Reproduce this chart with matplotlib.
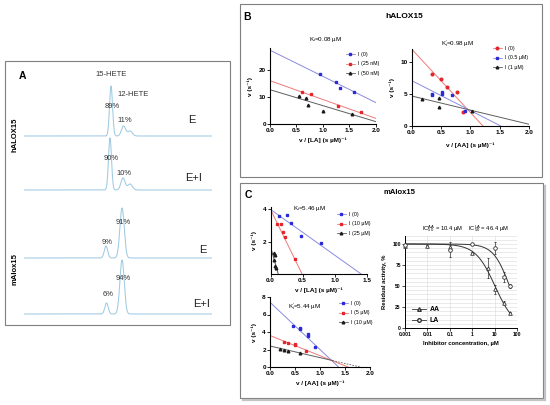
import numpy as np
import matplotlib
matplotlib.use("Agg")
import matplotlib.pyplot as plt
from matplotlib.lines import Line2D
from matplotlib.patches import Rectangle
from matplotlib.ticker import MultipleLocator, LogLocator, NullFormatter

plt.rcParams['font.family'] = ['Liberation Sans', 'DejaVu Sans']
plt.rcParams['mathtext.fontset'] = 'custom'
plt.rcParams['mathtext.rm'] = 'Liberation Sans'
plt.rcParams['mathtext.it'] = 'Liberation Sans:italic'
plt.rcParams['mathtext.bf'] = 'Liberation Sans:bold'

W, H = 550, 405

# ---------------- Panel A: HPLC traces (retention time in min, height in a.u.)
trace_tags = ["E", "E+I", "E", "E+I"]
peak_rt = [[9.26, 10.59, 11.28], [9.15, 10.53, 11.28], [8.72, 10.43], [8.78, 10.43]]
peak_height = [[50, 10, 5], [52, 12, 6], [12, 50], [11, 54]]
peak_sigma = [[0.16, 0.22, 0.25], [0.16, 0.22, 0.25], [0.18, 0.23], [0.18, 0.23]]
peak_pct = [["89%", "11%", ""], ["90%", "10%", ""], ["9%", "91%"], ["6%", "94%"]]
pct_height = [[30, 16, 0], [31, 17, 0], [16, 35], [19, 36]]

# ---------------- Panel B: hALOX15 Eadie-Hofstee plots
bl_labels = ["I (0)", "I (25 nM)", "I (50 nM)"]
bl_x = [[0.95, 1.24, 1.33, 1.58], [0.61, 0.77, 1.29, 1.72], [0.55, 0.68, 0.71, 1.00, 1.55]]
bl_y = [[18.6, 15.5, 13.3, 12.0], [11.8, 11.3, 6.6, 4.5], [10.4, 9.8, 6.9, 5.0, 3.8]]
bl_int = [27.2, 16.0, 12.7]
bl_slope = [-9.6, -6.9, -5.85]

br_labels = ["I (0)", "I (0.5 µM)", "I (1 µM)"]
br_x = [[0.34, 0.50, 0.61, 0.77, 0.88], [0.34, 0.34, 0.52, 0.52, 0.69, 0.90], [0.18, 0.46, 0.46, 1.02]]
br_y = [[8.1, 7.35, 6.0, 5.3, 2.1], [5.0, 4.8, 5.3, 5.0, 4.8, 2.3], [4.2, 4.4, 3.0, 2.4]]
br_int = [11.95, 7.05, 4.66]
br_slope = [-9.85, -4.65, -2.2]

# ---------------- Panel C: mAlox15
ctl_labels = ["I (0)", "I (10 µM)", "I (25 µM)"]
ctl_x = [[0.13, 0.25, 0.32, 0.48, 0.78], [0.10, 0.16, 0.19, 0.23, 0.38], [0.05, 0.065, 0.06, 0.065, 0.085]]
ctl_y = [[3.61, 3.65, 3.18, 2.35, 1.94], [3.1, 3.1, 2.58, 2.27, 0.95], [1.32, 1.18, 0.87, 0.52, 0.35]]
ctl_int = [4.0, 4.0, 1.7]
ctl_slope = [-2.84, -8.16, -14.2]

cbl_labels = ["I (0)", "I (5 µM)", "I (10 µM)"]
cbl_x = [[0.45, 0.60, 0.60, 0.75, 0.75, 0.90], [0.27, 0.35, 0.50, 0.50, 0.72], [0.20, 0.27, 0.35, 0.60]]
cbl_y = [[4.7, 4.5, 4.3, 3.8, 3.6, 2.3], [2.9, 2.8, 2.6, 2.5, 1.8], [2.1, 1.95, 1.8, 1.6]]
cbl_int = [7.4, 3.6, 2.4]
cbl_slope = [-5.4, -2.31, -1.33]
cbl_solid = [1.37, 1.56, 1.25]

aa_conc = [0.001, 0.01, 0.1, 1, 5, 10, 25, 50]
aa_act = [98, 98, 96, 89, 71, 46, 30, 18]
aa_err = [2, 1, 3, 1, 12, 5, 2, 1]
la_conc = [0.001, 0.1, 1, 10, 25, 50]
la_act = [99, 93, 100, 95, 61, 50]
la_err = [1, 9, 1, 7, 6, 2]
ic50 = {"AA": 10.4, "LA": 46.4}
hill = {"AA": 1.0, "LA": 1.2}

PT = {"blue": "#2b2bd6", "red": "#e3262b", "black": "#1a1a1a"}
LN = {"blue": "#8a8ae2", "red": "#ee7a7a", "black": "#5e5e5e"}

fig = plt.figure(figsize=(5.5, 4.05), dpi=100)


def add_ax(x0, y0, x1, y1, **kw):
    return fig.add_axes([x0 / W, 1 - y1 / H, (x1 - x0) / W, (y1 - y0) / H], **kw)


def ftext(x, y, s, **kw):
    fig.text(x / W, 1 - y / H, s, **kw)


def box(x0, y0, x1, y1, shadow=False):
    fig.patches.append(Rectangle((x0 / W, 1 - y1 / H), (x1 - x0) / W, (y1 - y0) / H,
                                 transform=fig.transFigure, fill=False, ec="#7f7f7f", lw=0.8))
    if shadow:
        fig.lines.append(Line2D([(x1 + 2) / W] * 2, [1 - (y0 + 3) / H, 1 - (y1 + 2) / H],
                                transform=fig.transFigure, color="#c4c4c4", lw=1.6))
        fig.lines.append(Line2D([(x0 + 3) / W, (x1 + 2) / W], [1 - (y1 + 2) / H] * 2,
                                transform=fig.transFigure, color="#c4c4c4", lw=1.6))


def style(ax, xticks, yticks, xfmt, fs=4.6):
    for s in ("top", "right"):
        ax.spines[s].set_visible(False)
    for s in ("left", "bottom"):
        ax.spines[s].set_linewidth(0.8)
    ax.tick_params(direction="out", length=2, width=0.6, pad=1)
    ax.set_xticks(xticks, [xfmt % t for t in xticks], fontsize=fs, fontweight="bold")
    ax.set_yticks(yticks, ["%g" % t for t in yticks], fontsize=fs, fontweight="bold")


def eh_plot(ax, xs, ys, ints, slopes, colors, markers, xend, solid=None):
    handles = []
    for i, c in enumerate(colors):
        x_stop = min(-ints[i] / slopes[i], xend)
        x_sol = x_stop if solid is None else min(solid[i], x_stop)
        xx = np.array([0, x_sol])
        ax.plot(xx, ints[i] + slopes[i] * xx, color=LN[c], lw=0.7, zorder=2)
        if x_sol < x_stop:
            xx = np.array([x_sol, x_stop])
            ax.plot(xx, ints[i] + slopes[i] * xx, color=LN[c], lw=0.6, ls=(0, (2, 1.5)), zorder=2)
        ax.plot(xs[i], ys[i], ls="none", marker=markers[i], color=PT[c], ms=1.9, zorder=3)
        handles.append(Line2D([], [], color=LN[c], lw=0.6, marker=markers[i],
                              mfc=PT[c], mec=PT[c], ms=1.9))
    return handles


def put_legend(ax, handles, labels, x, y):
    ax.legend(handles, labels, loc="upper left", bbox_to_anchor=(x / W, 1 - y / H),
              bbox_transform=fig.transFigure, frameon=False, fontsize=3.8, borderpad=0,
              handlelength=1.8, handletextpad=0.5, labelspacing=0.9)


# ---------------- boxes and panel letters
box(5, 61, 230, 325)
box(240, 4, 542, 177)
box(240, 183, 543, 398, shadow=True)
ftext(22, 76, "A", fontsize=7.5, fontweight="bold", ha="center", va="center")
ftext(247, 17, "B", fontsize=7.5, fontweight="bold", ha="center", va="center")
ftext(248, 195, "C", fontsize=7.5, fontweight="bold", ha="center", va="center")
ftext(404, 17, "hALOX15", fontsize=6, fontweight="bold", ha="center", va="center")
ftext(399, 193, "mAlox15", fontsize=5.5, fontweight="bold", ha="center", va="center")
ftext(15, 135, "hALOX15", fontsize=5.5, fontweight="bold", rotation=90, ha="center", va="center")
ftext(15, 269, "mAlox15", fontsize=5.5, fontweight="bold", rotation=90, ha="center", va="center")

# ---------------- Panel A traces
baselines = [136, 190, 258, 314]
tag_pos = [(17.9, 16), (18.0, 12), (19.0, 8), (18.9, 10)]
t = np.linspace(0, 20, 2000)
for k in range(4):
    b = baselines[k]
    ax = add_ax(24, b - 61, 212, b + 1)
    sig = np.zeros_like(t)
    for rt, h, s in zip(peak_rt[k], peak_height[k], peak_sigma[k]):
        sig += h * np.exp(-0.5 * ((t - rt) / s) ** 2)
    ax.plot(t, sig, color="#9ecae3", lw=0.75)
    ax.axhline(-0.7, color="#dcdcdc", lw=0.5)
    ax.set_xlim(0, 20)
    ax.set_ylim(-1, 61)
    ax.axis("off")
    for rt, lab, hy in zip(peak_rt[k], peak_pct[k], pct_height[k]):
        if lab:
            ax.text(rt + 0.12, hy, lab, fontsize=5.5, color="#333333", ha="center", va="center")
    ax.text(tag_pos[k][0], tag_pos[k][1], trace_tags[k], fontsize=8, color="#222222",
            ha="center", va="center")
    if k == 0:
        ax.text(peak_rt[0][0], 62, "15-HETE", fontsize=5.5, color="#333333",
                ha="center", va="center", clip_on=False)
        ax.text(peak_rt[0][1] + 1.0, 42, "12-HETE", fontsize=5.5, color="#333333",
                ha="center", va="center")

# ---------------- Panel B left
ax = add_ax(270, 48, 375.7, 124.3)
hd = eh_plot(ax, bl_x, bl_y, bl_int, bl_slope, ["blue", "red", "black"], ["s", "s", "^"], 2.0)
ax.set_xlim(0, 2)
ax.set_ylim(0, 28)
style(ax, [0, 0.5, 1.0, 1.5, 2.0], [0, 10, 20], "%.1f")
ax.set_xlabel("v / [LA] (s µM)⁻¹", fontsize=4.6, fontweight="bold", labelpad=3)
ax.set_ylabel("v (s⁻¹)", fontsize=4.6, fontweight="bold", labelpad=4)
ftext(326, 40, r"K$_\mathrm{i}$=0.08 µM", fontsize=4.5, ha="center", va="center")
put_legend(ax, hd, bl_labels, 343, 49)

# ---------------- Panel B right
ax = add_ax(411.5, 48.6, 529.3, 126)
hd = eh_plot(ax, br_x, br_y, br_int, br_slope, ["red", "blue", "black"], ["o", "s", "^"], 2.0)
ax.set_xlim(0, 2)
ax.set_ylim(0, 12)
style(ax, [0, 0.5, 1.0, 1.5, 2.0], [0, 5, 10], "%.1f")
ax.set_xlabel("v / [AA] (s µM)⁻¹", fontsize=4.6, fontweight="bold", labelpad=5)
ax.set_ylabel("v (s⁻¹)", fontsize=4.6, fontweight="bold", labelpad=4)
ftext(458, 44, r"K$^{\prime}_\mathrm{i}$=0.98 µM", fontsize=4.5, ha="center", va="center")
put_legend(ax, hd, br_labels, 490, 43)

# ---------------- Panel C top-left
ax = add_ax(270.5, 207, 367, 274)
hd = eh_plot(ax, ctl_x, ctl_y, ctl_int, ctl_slope, ["blue", "red", "black"], ["s", "s", "^"], 1.5)
ax.set_xlim(0, 1.5)
ax.set_ylim(0, 4.15)
style(ax, [0, 0.5, 1.0, 1.5], [2, 4], "%.1f")
ax.set_xlabel("v / [LA] (s µM)⁻¹", fontsize=4.6, fontweight="bold", labelpad=3)
ax.set_ylabel("v (s⁻¹)", fontsize=4.6, fontweight="bold", labelpad=4)
ftext(310, 208, r"K$_\mathrm{i}$=5.46 µM", fontsize=4.5, ha="center", va="center")
put_legend(ax, hd, ctl_labels, 334, 209)

# ---------------- Panel C bottom-left
ax = add_ax(270, 297, 370, 367)
hd = eh_plot(ax, cbl_x, cbl_y, cbl_int, cbl_slope, ["blue", "red", "black"], ["s", "s", "^"], 2.0,
             solid=cbl_solid)
ax.set_xlim(0, 2)
ax.set_ylim(0, 8)
style(ax, [0, 0.5, 1.0, 1.5, 2.0], [0, 2, 4, 6, 8], "%.1f")
ax.set_xlabel("v / [AA] (s µM)⁻¹", fontsize=4.6, fontweight="bold", labelpad=3)
ax.set_ylabel("v (s⁻¹)", fontsize=4.6, fontweight="bold", labelpad=4)
ftext(305, 307, r"K$^{\prime}_\mathrm{i}$=5.44 µM", fontsize=4.5, ha="center", va="center")
put_legend(ax, hd, cbl_labels, 336, 298)

# ---------------- Panel C right: dose-response
ax = add_ax(405, 235.6, 517, 328)
ax.set_xscale("log")
ax.set_xlim(0.001, 100)
ax.set_ylim(0, 110)
cc = np.logspace(-3, np.log10(50), 300)
for key, xs, ys, es, mk in (("AA", aa_conc, aa_act, aa_err, "^"), ("LA", la_conc, la_act, la_err, "o")):
    ax.plot(cc, 100 / (1 + (cc / ic50[key]) ** hill[key]), color="#333333", lw=0.7, zorder=2)
    ax.errorbar(xs, ys, yerr=es, fmt=mk, mfc="white", mec="#333333", ms=2.6, mew=0.6,
                ecolor="#333333", elinewidth=0.5, capsize=1, zorder=3, clip_on=False)
ax.xaxis.set_minor_locator(LogLocator(base=10, subs=np.arange(2, 10)))
ax.xaxis.set_minor_formatter(NullFormatter())
ax.yaxis.set_minor_locator(MultipleLocator(5))
ax.grid(which="both", color="#dadada", lw=0.4)
ax.set_axisbelow(True)
for s in ("top", "right"):
    ax.spines[s].set_visible(False)
for s in ("left", "bottom"):
    ax.spines[s].set_linewidth(0.7)
ax.tick_params(which="major", direction="out", length=2, width=0.5, pad=1)
ax.tick_params(which="minor", length=0)
xt = [0.001, 0.01, 0.1, 1, 10, 100]
ax.set_xticks(xt, ["%g" % v for v in xt], fontsize=3.6, fontweight="bold")
yt = [0, 25, 50, 75, 100]
ax.set_yticks(yt, ["%g" % v for v in yt], fontsize=3.6, fontweight="bold")
ax.set_xlabel("Inhibitor concentration, µM", fontsize=4.2, fontweight="bold", labelpad=3)
ax.set_ylabel("Residual activity, %", fontsize=4.2, fontweight="bold", labelpad=4)
ftext(465, 229, r"IC$_{50}^{\mathrm{AA}}$ = 10.4 µM    IC$_{50}^{\mathrm{LA}}$ = 46.4 µM",
      fontsize=4.2, ha="center", va="center")
lh = [Line2D([], [], color="#333333", lw=0.6, marker=m, mfc="white", mec="#333333", ms=2.6)
      for m in ("^", "o")]
leg = ax.legend(lh, ["AA", "LA"], loc="upper left", bbox_to_anchor=(409 / W, 1 - 303 / H),
                bbox_transform=fig.transFigure, frameon=False, fontsize=5, borderpad=0,
                handlelength=2.0, handletextpad=0.5, labelspacing=0.5)
for tx in leg.get_texts():
    tx.set_fontweight("bold")

fig.savefig("out.png", dpi=100)
